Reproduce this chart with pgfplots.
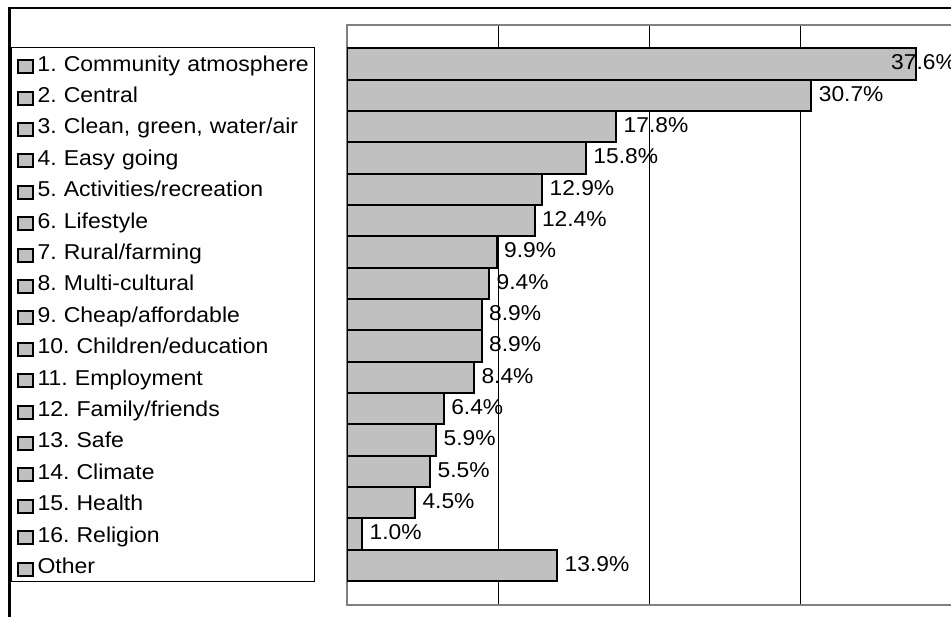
\documentclass[border=0pt]{standalone}
\usepackage{pgfplots}
\pgfplotsset{compat=1.18}
\usepackage{fontspec}
\setmainfont{Liberation Sans}[FakeStretch=1.06]
\newfontfamily\legfam{Liberation Sans}[FakeStretch=1.07]
\definecolor{barfill}{RGB}{192,192,192}
\definecolor{axgray}{RGB}{128,128,128}
\newcommand{\chartfont}{\fontsize{21.5}{25}\selectfont\frenchspacing}
\newcommand{\legfont}{\legfam\fontsize{21.5}{31.4}\selectfont\frenchspacing}
\newcommand{\lsq}[1]{\mbox{\rule[-7.7pt]{0pt}{31.4pt}\raisebox{-1pt}{\setlength{\fboxrule}{2pt}\setlength{\fboxsep}{0pt}\fcolorbox{black}{barfill}{\rule{0pt}{11pt}\rule{12.5pt}{0pt}}}\hspace{3.8pt}#1}}
\frenchspacing
\begin{document}
\begin{tikzpicture}
\useasboundingbox (0pt,0pt) rectangle (951pt,617pt);
\clip (0pt,0pt) rectangle (951pt,617pt);
\begin{scope}[overlay]
\draw[line width=2.7pt] (9.5pt,-20pt) -- (9.5pt,609pt) -- (980pt,609pt);
\begin{axis}[
  at={(347pt,12pt)}, anchor=south west,
  scale only axis, width=605pt, height=580pt,
  xbar, bar width=1, bar shift=0pt,
  xmin=0, xmax=40, ymin=-1.244, ymax=17.266, y dir=reverse,
  axis line style={draw=axgray, line width=2pt},
  xtick={10,20,30}, xticklabels={}, ytick=\empty,
  major tick length=0pt,
  xmajorgrids, grid style={black, line width=1pt},
  /pgf/number format/assume math mode=true,
  point meta=x,
  nodes near coords={\pgfmathprintnumber[fixed,fixed zerofill,precision=1]{\pgfplotspointmeta}\%},
  every node near coord/.append style={anchor=west, inner sep=0pt, font=\chartfont, text=black},
]
\addplot[fill=barfill, draw=black, line width=2pt, forget plot,
  nodes near coords style={xshift=-25.5pt, yshift=1.5pt}] coordinates {(37.6,0)};
\addplot[fill=barfill, draw=black, line width=2pt, forget plot,
  nodes near coords style={xshift=6.5pt, yshift=1.5pt}] coordinates {
  (30.7,1) (17.8,2) (15.8,3) (12.9,4) (12.4,5) (9.9,6) (9.4,7) (8.9,8)
  (8.9,9) (8.4,10) (6.4,11) (5.9,12) (5.5,13) (4.5,14) (1.0,15) (13.9,16)};
\end{axis}
\node[draw=black, line width=1pt, fill=white, anchor=north west, inner xsep=5.7pt, inner ysep=0pt,
  text width=291.6pt, align=left, font=\legfont] at (11pt,570pt) {%
\lsq{1. Community atmosphere}\\
\lsq{2. Central}\\
\lsq{3. Clean, green, water/air}\\
\lsq{4. Easy going}\\
\lsq{5. Activities/recreation}\\
\lsq{6. Lifestyle}\\
\lsq{7. Rural/farming}\\
\lsq{8. Multi-cultural}\\
\lsq{9. Cheap/affordable}\\
\lsq{10. Children/education}\\
\lsq{11. Employment}\\
\lsq{12. Family/friends}\\
\lsq{13. Safe}\\
\lsq{14. Climate}\\
\lsq{15. Health}\\
\lsq{16. Religion}\\
\lsq{Other}};
\end{scope}
\end{tikzpicture}
\end{document}
